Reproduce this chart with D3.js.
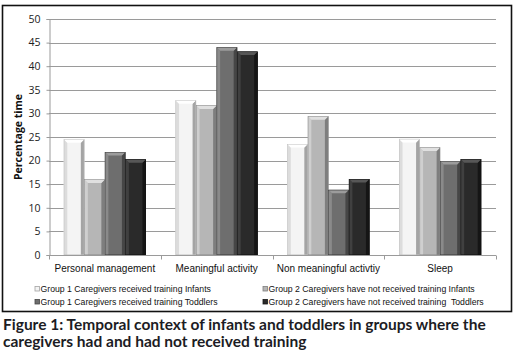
<!DOCTYPE html>
<html><head><meta charset="utf-8">
<script src="https://cdn.jsdelivr.net/npm/d3@7/dist/d3.min.js"></script>
<style>
html,body{margin:0;padding:0;background:#fff;}
svg{display:block;}
</style></head>
<body>
<svg id="chart" width="516" height="355"></svg>
<script>
const categories = ["Personal management", "Meaningful activity", "Non meaningful activtiy", "Sleep"];
const seriesNames = [
  "Group 1 Caregivers received training Infants",
  "Group 2 Caregivers have not received training Infants",
  "Group 1 Caregivers received training Toddlers",
  "Group 2 Caregivers have not received training  Toddlers"
];
const g1Infants   = [24.5, 32.8, 23.5, 24.6];
const g2Infants   = [16.0, 31.7, 29.4, 22.8];
const g1Toddlers  = [21.8, 44.0, 13.8, 19.9];
const g2Toddlers  = [20.3, 43.1, 16.1, 20.3];
const yTicks = [0, 5, 10, 15, 20, 25, 30, 35, 40, 45, 50];
const yTitle = "Percentage time";
const caption = ["Figure 1: Temporal context of infants and toddlers in groups where the",
                 "caregivers had and had not received training"];

const seriesValues = [g1Infants, g2Infants, g1Toddlers, g2Toddlers];
const palette = [
  {base:"#f4f4f4", left:"#dcdcdc", right:"#a4a4a4", top:"#ffffff", edge:"#c0c0c0"},
  {base:"#b6b6b6", left:"#cfcfcf", right:"#7e7e7e", top:"#e0e0e0", edge:"#8a8a8a"},
  {base:"#6e6e6e", left:"#8a8a8a", right:"#464646", top:"#9c9c9c", edge:"#3a3a3a"},
  {base:"#2a2a2a", left:"#404040", right:"#151515", top:"#575757", edge:"#111111"}
];

const svg = d3.select("#chart");
const plotL = 49, plotR = 496, plotT = 19, plotB = 255;

// border
svg.append("rect").attr("x",2.5).attr("y",5.5).attr("width",509).attr("height",306)
  .attr("fill","none").attr("stroke","#111").attr("stroke-width",1.6);

const y = d3.scaleLinear().domain([0,50]).range([plotB, plotT]);
const x0 = d3.scaleBand().domain(categories).range([plotL, plotR]).paddingInner(0).paddingOuter(0);
const x1 = d3.scaleBand().domain(d3.range(seriesValues.length)).range([0, x0.bandwidth()]).paddingInner(0).paddingOuter(0.72);

// gridlines
svg.append("g").selectAll("line").data(yTicks.filter(d=>d>0)).join("line")
  .attr("x1",plotL).attr("x2",plotR)
  .attr("y1",d=>Math.round(y(d))+0.5).attr("y2",d=>Math.round(y(d))+0.5)
  .attr("stroke","#9a9a9a").attr("stroke-width",1);

// y axis
const yAxis = d3.axisLeft(y).tickValues(yTicks).tickSize(3).tickPadding(6);
const gy = svg.append("g").attr("transform",`translate(${plotL+0.5},0)`).call(yAxis);
gy.select(".domain").attr("stroke","#9a9a9a");
gy.selectAll(".tick line").attr("stroke","#9a9a9a");
gy.selectAll(".tick text").attr("font-family","'Open Sans', 'Liberation Sans', sans-serif")
  .attr("font-size","10.5px").attr("fill","#222");

// x axis
const gx = svg.append("g").attr("transform",`translate(0,${plotB+0.5})`);
gx.append("line").attr("x1",plotL).attr("x2",plotR).attr("stroke","#9a9a9a");
const boundaries = categories.map(c=>x0(c)).concat([plotR]);
gx.selectAll("line.tk").data(boundaries).join("line").attr("class","tk")
  .attr("x1",d=>Math.round(d)+0.5).attr("x2",d=>Math.round(d)+0.5).attr("y1",0).attr("y2",4)
  .attr("stroke","#9a9a9a");
gx.selectAll("text").data(categories).join("text")
  .attr("x",d=>x0(d)+x0.bandwidth()/2).attr("y",16)
  .attr("text-anchor","middle")
  .attr("font-family","'Liberation Sans', Arial, sans-serif").attr("font-size","10px").attr("fill","#111")
  .text(d=>d);

// y title
svg.append("text").attr("transform",`translate(22,${(plotT+plotB)/2}) rotate(-90)`)
  .attr("text-anchor","middle").attr("font-family","'Open Sans', 'Liberation Sans', sans-serif")
  .attr("font-weight","bold").attr("font-size","10.5px").attr("fill","#111").text(yTitle);

// bars with bevel
const bars = [];
seriesValues.forEach((vals, si) => {
  vals.forEach((v, ci) => bars.push({si, ci, v}));
});
const bev = 3.5;
const bg = svg.append("g");
bars.forEach(b => {
  const c = palette[b.si];
  const bx = x0(categories[b.ci]) + x1(b.si);
  const bw = x1.bandwidth();
  const by = y(b.v), bb = y(0);
  const g = bg.append("g");
  g.append("rect").attr("x",bx).attr("y",by).attr("width",bw).attr("height",bb-by).attr("fill",c.base);
  g.append("polygon").attr("points",[[bx,by],[bx+bev,by+bev],[bx+bev,bb],[bx,bb]].join(" ")).attr("fill",c.left);
  g.append("polygon").attr("points",[[bx+bw,by],[bx+bw-bev,by+bev],[bx+bw-bev,bb],[bx+bw,bb]].join(" ")).attr("fill",c.right);
  g.append("polygon").attr("points",[[bx,by],[bx+bw,by],[bx+bw-bev,by+bev],[bx+bev,by+bev]].join(" ")).attr("fill",c.top);
  g.append("rect").attr("x",bx+0.25).attr("y",by+0.25).attr("width",bw-0.5).attr("height",bb-by-0.5)
    .attr("fill","none").attr("stroke",c.edge).attr("stroke-width",0.5);
});

// legend
const legendX = [35, 263];
const legendY = [289, 302];
const lg = svg.append("g");
seriesNames.forEach((name, i) => {
  const col = i % 2, row = Math.floor(i / 2);
  const lx = legendX[col], ly = legendY[row];
  lg.append("rect").attr("x",lx).attr("y",ly-2.5).attr("width",4.5).attr("height",4.5)
    .attr("fill",palette[i].base).attr("stroke",palette[i].right).attr("stroke-width",0.8);
  lg.append("text").attr("x",lx+5.5).attr("y",ly+3)
    .attr("font-family","'Liberation Sans', Arial, sans-serif").attr("font-size","8.7px").attr("fill","#111")
    .style("white-space","pre")
    .text(name);
});

// caption
svg.append("g").selectAll("text").data(caption).join("text")
  .attr("x",3).attr("y",(d,i)=>330 + i*17)
  .attr("font-family","Lato, 'Open Sans', sans-serif").attr("font-weight","bold")
  .attr("font-size","15.5px").attr("fill","#1c1c24")
  .text(d=>d);
</script>
</body></html>
